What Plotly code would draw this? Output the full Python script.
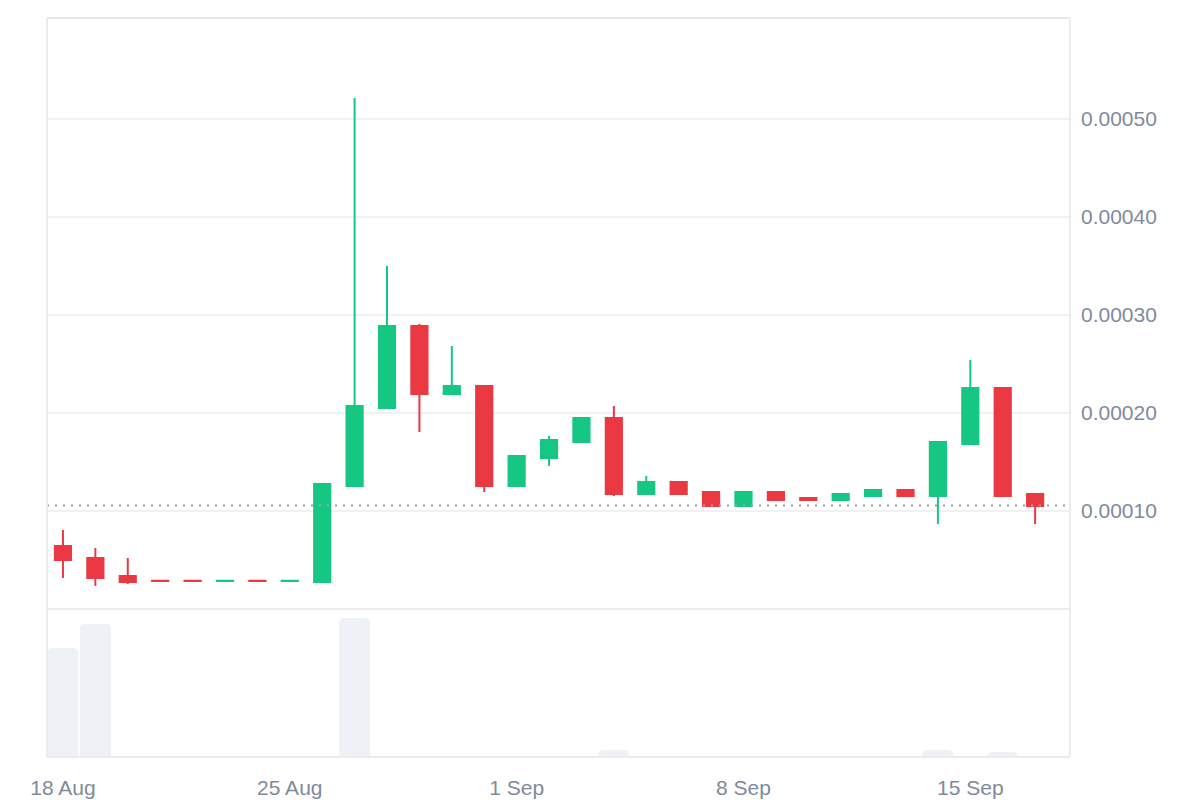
import plotly.graph_objects as go

# ---- data (prices in units of 1e-5 USD) ----
dates = ["2024-08-18", "2024-08-19", "2024-08-20", "2024-08-21", "2024-08-22",
         "2024-08-23", "2024-08-24", "2024-08-25", "2024-08-26", "2024-08-27",
         "2024-08-28", "2024-08-29", "2024-08-30", "2024-08-31", "2024-09-01",
         "2024-09-02", "2024-09-03", "2024-09-04", "2024-09-05", "2024-09-06",
         "2024-09-07", "2024-09-08", "2024-09-09", "2024-09-10", "2024-09-11",
         "2024-09-12", "2024-09-13", "2024-09-14", "2024-09-15", "2024-09-16",
         "2024-09-17"]
open_e5 = [6.43, 5.20, 3.37, 2.87, 2.87, 2.85, 2.87, 2.85, 2.76, 12.55,
           20.51, 28.88, 21.94, 22.76, 12.55, 15.41, 17.04, 19.49, 11.73, 12.96,
           11.94, 10.51, 11.94, 11.33, 11.12, 11.53, 12.14, 11.53, 16.84, 22.55,
           11.73]
high_e5 = [8.06, 6.22, 5.20, 2.87, 2.87, 2.87, 2.87, 2.87, 12.76, 52.14,
           35.00, 29.08, 26.84, 22.76, 15.61, 17.65, 19.49, 20.71, 13.57, 12.96,
           11.94, 11.94, 11.94, 11.33, 11.73, 12.14, 12.14, 17.04, 25.41, 22.55,
           11.73]
low_e5 = [3.16, 2.35, 2.55, 2.85, 2.85, 2.85, 2.85, 2.85, 2.76, 12.55,
          20.51, 18.06, 21.94, 11.94, 12.55, 14.59, 17.04, 11.53, 11.73, 11.73,
          10.51, 10.51, 11.12, 11.12, 11.12, 11.53, 11.53, 8.67, 16.84, 11.53,
          8.67]
close_e5 = [5.00, 3.16, 2.76, 2.85, 2.85, 2.87, 2.85, 2.87, 12.76, 20.71,
            28.88, 21.94, 22.76, 12.55, 15.61, 17.24, 19.49, 11.73, 12.96, 11.73,
            10.51, 11.94, 11.12, 11.12, 11.73, 12.14, 11.53, 17.04, 22.55, 11.53,
            10.51]
volume = [109, 133, 0, 0, 0, 0, 0, 0, 0, 139,
          0, 0, 0, 0, 0, 0, 0, 7, 0, 0,
          0, 0, 0, 0, 0, 0, 0, 7, 0, 5,
          0]
last_price_e5 = 10.55
price_ticks_e5 = [10, 20, 30, 40, 50]
x_tick_vals = ["2024-08-18", "2024-08-25", "2024-09-01", "2024-09-08", "2024-09-15"]
x_tick_text = ["18 Aug", "25 Aug", "1 Sep", "8 Sep", "15 Sep"]

SCALE = 1e-5
o = [v * SCALE for v in open_e5]
h = [v * SCALE for v in high_e5]
l = [v * SCALE for v in low_e5]
c = [v * SCALE for v in close_e5]

GREEN = "#16c784"
RED = "#ea3943"
TEXT = "#808a9d"
GRID = "#f1f1f1"
BORDER = "#ececec"
FONT = "Liberation Sans, Arial, sans-serif"

split = 148 / 739

fig = go.Figure()
fig.add_trace(go.Bar(
    x=dates, y=volume, yaxis="y2",
    marker=dict(color="#eef1f5", cornerradius=5, line=dict(width=0)),
    hoverinfo="skip", showlegend=False,
))
fig.add_trace(go.Candlestick(
    x=dates, open=o, high=h, low=l, close=c, yaxis="y",
    increasing=dict(line=dict(color=GREEN, width=2), fillcolor=GREEN),
    decreasing=dict(line=dict(color=RED, width=2), fillcolor=RED),
    whiskerwidth=0, showlegend=False,
))

shapes = [
    # current price dotted line
    dict(type="line", xref="paper", yref="y", x0=0, x1=1,
         y0=last_price_e5 * SCALE, y1=last_price_e5 * SCALE,
         line=dict(color="#a0a0a0", width=2, dash="2px,6px"), layer="above"),
    # panel borders
    dict(type="line", xref="paper", yref="paper", x0=0, x1=1, y0=1, y1=1,
         line=dict(color="#e6e6e6", width=2)),
    dict(type="line", xref="paper", yref="paper", x0=0, x1=1, y0=split, y1=split,
         line=dict(color=BORDER, width=2)),
    dict(type="line", xref="paper", yref="paper", x0=0, x1=1, y0=0, y1=0,
         line=dict(color=BORDER, width=2)),
    dict(type="line", xref="paper", yref="paper", x0=0, x1=0, y0=0, y1=1,
         line=dict(color=BORDER, width=2)),
    dict(type="line", xref="paper", yref="paper", x0=1, x1=1, y0=0, y1=1,
         line=dict(color=BORDER, width=2)),
]

fig.update_layout(
    width=1200, height=800,
    margin=dict(l=47, r=130, t=18, b=43),
    paper_bgcolor="white", plot_bgcolor="white",
    font=dict(family=FONT, size=21, color=TEXT),
    showlegend=False,
    bargap=0.04,
    boxgap=0.5, boxgroupgap=0,
    shapes=shapes,
    xaxis=dict(
        type="date", anchor="y2", automargin=False,
        range=["2024-08-17 12:11", "2024-09-18 01:50"],
        rangeslider=dict(visible=False),
        tickvals=x_tick_vals, ticktext=x_tick_text,
        showgrid=False, zeroline=False, showline=False,
        ticks="", ticklabelstandoff=16,
        tickfont=dict(size=21, color=TEXT, family=FONT),
    ),
    yaxis=dict(
        domain=[split, 1], side="right", anchor="x", automargin=False,
        range=[0, 60.3 * SCALE],
        tickvals=[v * SCALE for v in price_ticks_e5],
        tickformat=".5f",
        showgrid=True, gridcolor=GRID, gridwidth=2,
        zeroline=False, showline=False, ticks="",
        ticklabelstandoff=10,
        tickfont=dict(size=21, color=TEXT, family=FONT),
    ),
    yaxis2=dict(
        domain=[0, split], range=[0, 148], anchor="x", automargin=False,
        showgrid=False, zeroline=False, showline=False,
        showticklabels=False, ticks="",
    ),
)

fig.write_html("out.html")
